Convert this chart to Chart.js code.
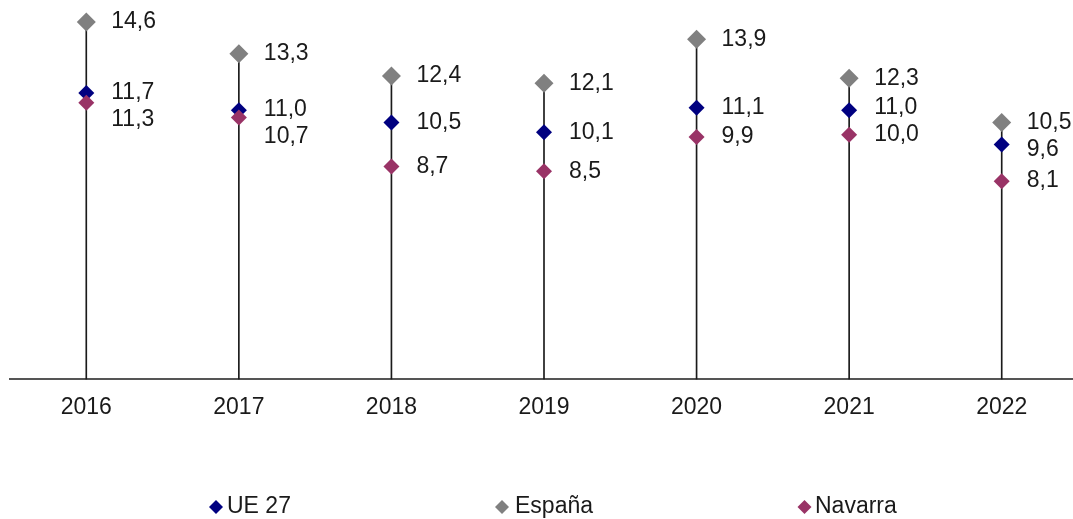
<!DOCTYPE html>
<html>
<head>
<meta charset="utf-8">
<script src="https://cdn.jsdelivr.net/npm/chart.js@4/dist/chart.umd.min.js"></script>
<style>
html,body{margin:0;padding:0;background:#fff;overflow:hidden;}
#wrap{width:1080px;height:519px;}
</style>
</head>
<body>
<div id="wrap"><canvas id="c" width="1080" height="519"></canvas></div>
<script>
// ---- Data ----
const years = ['2016', '2017', '2018', '2019', '2020', '2021', '2022'];
const ue27 = [11.7, 11.0, 10.5, 10.1, 11.1, 11.0, 9.6];
const espana = [14.6, 13.3, 12.4, 12.1, 13.9, 12.3, 10.5];
const navarra = [11.3, 10.7, 8.7, 8.5, 9.9, 10.0, 8.1];
const seriesNames = ['UE 27', 'España', 'Navarra'];

// ---- Styling / label placement (not data) ----
const colors = ['#000080', '#808080', '#993366'];
const radii = [8, 9.5, 8];
const labelDy = [
  [0, 0, 0, 0, 0, -2, 5],
  [0, 0, 0, 0, 0, 0, 0],
  [17, 19, 0, 0, 0, 0, 0]
];
const FONT = "'Liberation Sans', Arial, sans-serif";
const FS = 23;

const seriesValues = [ue27, espana, navarra];
const stemRanges = years.map((_, i) => [0, Math.max(ue27[i], espana[i], navarra[i])]);
const fmt = v => v.toFixed(1).replace('.', ',');

const labelPlugin = {
  id: 'valueLabels',
  afterDatasetsDraw(chart) {
    const ctx = chart.ctx;
    ctx.save();
    ctx.font = FS + 'px ' + FONT;
    ctx.fillStyle = '#1a1a1a';
    ctx.textAlign = 'left';
    ctx.textBaseline = 'middle';
    chart.data.datasets.forEach((ds, di) => {
      if (ds.seriesIndex === undefined) return;
      const meta = chart.getDatasetMeta(di);
      meta.data.forEach((el, i) => {
        ctx.fillText(fmt(ds.data[i]), el.x + 25, el.y + labelDy[ds.seriesIndex][i]);
      });
    });
    ctx.restore();
  }
};

const legendPos = [{m: 216, t: 227}, {m: 502, t: 515}, {m: 804.5, t: 815}];
const legendPlugin = {
  id: 'customLegend',
  afterDraw(chart) {
    const ctx = chart.ctx;
    const y = 507;
    ctx.save();
    ctx.font = FS + 'px ' + FONT;
    ctx.textAlign = 'left';
    ctx.textBaseline = 'middle';
    seriesNames.forEach((name, k) => {
      const r = 7, cx = legendPos[k].m;
      ctx.fillStyle = colors[k];
      ctx.beginPath();
      ctx.moveTo(cx, y - r); ctx.lineTo(cx + r, y); ctx.lineTo(cx, y + r); ctx.lineTo(cx - r, y); ctx.closePath();
      ctx.fill();
      ctx.fillStyle = '#1a1a1a';
      ctx.fillText(name, legendPos[k].t, y);
    });
    ctx.restore();
  }
};

const markerDatasets = seriesNames.map((name, k) => ({
  type: 'line',
  label: name,
  seriesIndex: k,
  data: seriesValues[k],
  showLine: false,
  pointStyle: 'rectRot',
  pointRadius: radii[k],
  pointHoverRadius: radii[k],
  pointBackgroundColor: colors[k],
  pointBorderColor: colors[k],
  pointBorderWidth: 0,
  clip: false,
  order: 3 - k
}));

new Chart(document.getElementById('c'), {
  type: 'bar',
  data: {
    labels: years,
    datasets: [
      {
        type: 'bar',
        label: 'stem',
        data: stemRanges,
        backgroundColor: '#1a1a1a',
        borderWidth: 0,
        barThickness: 1,
        order: 10
      },
      ...markerDatasets
    ]
  },
  options: {
    responsive: false,
    animation: false,
    events: [],
    layout: { autoPadding: false, padding: { left: 10, right: 2, top: 0, bottom: 84 } },
    plugins: { legend: { display: false }, tooltip: { enabled: false } },
    scales: {
      x: {
        offset: true,
        grid: { display: true, color: 'rgba(0,0,0,0)', drawTicks: false },
        border: { display: true, color: '#555555', width: 2 },
        ticks: { color: '#1a1a1a', padding: 14, font: { family: FONT, size: FS } }
      },
      y: {
        display: false,
        min: 0,
        max: 15.5
      }
    }
  },
  plugins: [labelPlugin, legendPlugin]
});
</script>
</body>
</html>
